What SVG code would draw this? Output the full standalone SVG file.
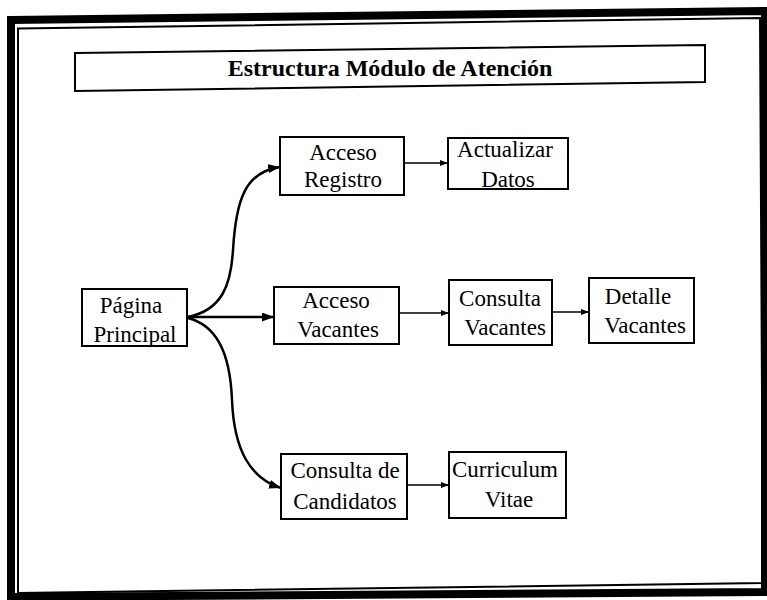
<svg xmlns="http://www.w3.org/2000/svg" width="767" height="600" viewBox="0 0 767 600">
<style>
.node rect{fill:#fff;stroke:#000;stroke-width:2}
.lbl{font-family:"Liberation Serif","Times New Roman",serif;font-size:23px;fill:#000;text-anchor:middle}
.title{font-family:"Liberation Serif","Times New Roman",serif;font-size:24px;font-weight:bold;fill:#000;text-anchor:middle}
.main{fill:none;stroke:#000;stroke-width:2.5}
.thin{fill:none;stroke:#000;stroke-width:1.5}
</style>
<defs>
<marker id="big" markerWidth="12" markerHeight="9" refX="12" refY="4.5" orient="auto" markerUnits="userSpaceOnUse"><path d="M0,0 L12,4.5 L0,9 z" fill="#000"/></marker>
<marker id="small" markerWidth="8" markerHeight="6" refX="8" refY="3" orient="auto" markerUnits="userSpaceOnUse"><path d="M0,0 L8,3 L0,6 z" fill="#000"/></marker>
</defs>
<rect width="767" height="600" fill="#fff"/>
<g id="frame" fill="none" stroke="#000">
<path d="M11,20 L765,11 L765,592 L11,597 Z" stroke-width="8"/>
<path d="M18,28.5 L760,18 L763,583 L18,593 Z" stroke-width="2"/>
</g>
<g id="title">
<path d="M75,53 L705,45 L705,82 L75,91 Z" fill="#fff" stroke="#000" stroke-width="2"/>
<text class="title" x="390" y="76">Estructura Módulo de Atención</text>
</g>
<g id="connectors">
<path class="main" d="M188,317 L274,317" marker-end="url(#big)"/>
<path class="main" d="M188,317 C222,310 231,285 233,250 C236,200 245,172 280,167" marker-end="url(#big)"/>
<path class="main" d="M188,318 C215,325 230,350 232,400 C234,450 250,478 281,488" marker-end="url(#big)"/>
<path class="thin" d="M404,163 L448,163" marker-end="url(#small)"/>
<path class="thin" d="M399,313 L449,313" marker-end="url(#small)"/>
<path class="thin" d="M552,312 L589,312" marker-end="url(#small)"/>
<path class="thin" d="M407,485 L449,485" marker-end="url(#small)"/>
</g>
<g id="pagina-principal" class="node">
<rect x="82" y="289" width="105" height="57"/>
<text class="lbl" x="131" y="313">Página</text>
<text class="lbl" x="135" y="342">Principal</text>
</g>
<g id="acceso-registro" class="node">
<rect x="280" y="137" width="124" height="58"/>
<text class="lbl" x="343" y="160">Acceso</text>
<text class="lbl" x="343" y="187">Registro</text>
</g>
<g id="actualizar-datos" class="node">
<rect x="448" y="138" width="120" height="51"/>
<text class="lbl" x="505" y="157">Actualizar</text>
<text class="lbl" x="508" y="187">Datos</text>
</g>
<g id="acceso-vacantes" class="node">
<rect x="274" y="287" width="125" height="57"/>
<text class="lbl" x="336" y="308">Acceso</text>
<text class="lbl" x="338" y="337">Vacantes</text>
</g>
<g id="consulta-vacantes" class="node">
<rect x="449" y="280" width="103" height="65"/>
<text class="lbl" x="500" y="306">Consulta</text>
<text class="lbl" x="505" y="335">Vacantes</text>
</g>
<g id="detalle-vacantes" class="node">
<rect x="589" y="278" width="105" height="65"/>
<text class="lbl" x="638" y="304">Detalle</text>
<text class="lbl" x="645" y="333">Vacantes</text>
</g>
<g id="consulta-candidatos" class="node">
<rect x="281" y="454" width="126" height="65"/>
<text class="lbl" x="345" y="478">Consulta de</text>
<text class="lbl" x="345" y="509">Candidatos</text>
</g>
<g id="curriculum-vitae" class="node">
<rect x="449" y="452" width="117" height="66"/>
<text class="lbl" x="505" y="477">Curriculum</text>
<text class="lbl" x="509" y="507">Vitae</text>
</g>
</svg>
